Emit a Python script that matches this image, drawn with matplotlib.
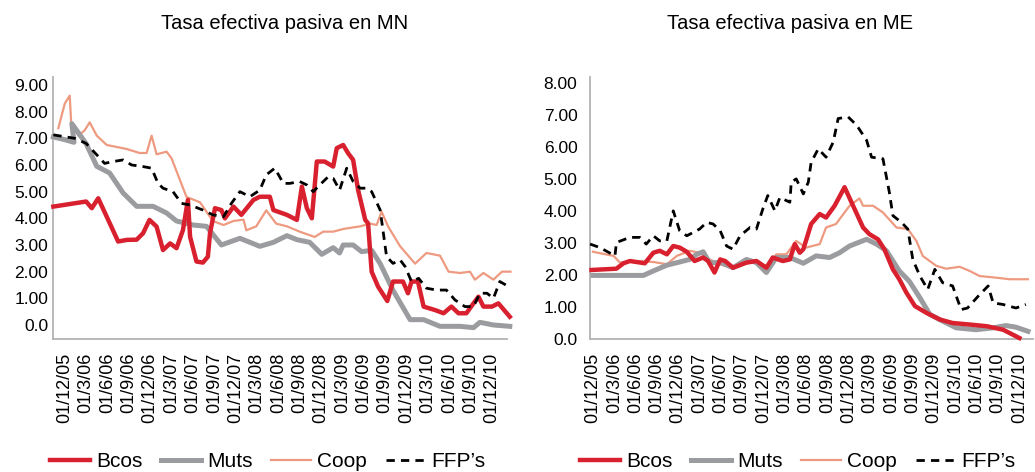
import matplotlib
matplotlib.use('Agg')
import matplotlib.pyplot as plt

plt.rcParams['font.family'] = ['Liberation Sans', 'DejaVu Sans']

# x values are months counted from Dec 2005 (0 = 01/12/05)
tick_labels = ['01/12/05', '01/3/06', '01/6/06', '01/9/06', '01/12/06', '01/3/07',
               '01/6/07', '01/9/07', '01/12/07', '01/3/08', '01/6/08', '01/9/08',
               '01/12/08', '01/3/09', '01/6/09', '01/9/09', '01/12/09', '01/3/10',
               '01/6/10', '01/9/10', '01/12/10']
tick_months = [3 * i for i in range(len(tick_labels))]

# --- Tasa efectiva pasiva en MN ---
mn_bcos_x = [-1.6, 3.0, 3.8, 4.7, 5.9, 7.5, 8.7, 10.1, 11.0, 11.9, 12.9, 13.8, 14.8, 15.7,
             16.6, 17.3, 17.6, 18.5, 19.4, 20.1, 20.4, 21.1, 22.0, 22.5, 23.7, 24.8, 26.5,
             27.4, 28.8, 29.3, 31.2, 32.6, 33.3, 34.0, 34.7, 35.4, 36.5, 37.7, 38.2, 39.1,
             39.8, 40.5, 41.2, 42.2, 42.6, 43.1, 44.0, 45.3, 46.1, 47.5, 48.2, 48.7, 49.6,
             50.4, 52.0, 53.2, 54.3, 55.3, 56.4, 57.4, 58.1, 58.8, 60.0, 60.9, 62.5]
mn_bcos_y = [4.44, 4.63, 4.38, 4.75, 4.06, 3.13, 3.19, 3.2, 3.44, 3.94, 3.69, 2.81, 3.06, 2.88,
             3.56, 4.69, 3.31, 2.38, 2.34, 2.56, 3.44, 4.38, 4.31, 4.0, 4.44, 4.13, 4.69,
             4.81, 4.81, 4.31, 4.13, 3.94, 5.19, 4.38, 4.0, 6.13, 6.13, 5.94, 6.63, 6.75,
             6.44, 6.19, 5.06, 3.94, 3.81, 2.0, 1.44, 0.9, 1.63, 1.63, 1.19, 1.63, 1.63,
             0.69, 0.56, 0.44, 0.69, 0.44, 0.44, 0.81, 1.06, 0.69, 0.69, 0.81, 0.31]

mn_muts_x = [-1.6, 0.0, 1.3, 1.0, 3.0, 4.5, 6.3, 8.2, 10.1, 12.4, 14.3, 15.7, 18.0, 19.9,
             22.0, 24.6, 27.4, 29.3, 31.2, 32.6, 34.4, 36.1, 37.7, 38.6, 39.1, 40.5, 41.7,
             43.1, 44.3, 46.1, 48.5, 50.4, 52.7, 55.5, 57.4, 58.3, 60.2, 62.5]
mn_muts_y = [7.05, 6.95, 6.85, 7.55, 6.8, 5.95, 5.7, 4.95, 4.45, 4.45, 4.2, 3.9, 3.75, 3.7,
             3.0, 3.25, 2.95, 3.1, 3.35, 3.2, 3.1, 2.65, 2.9, 2.7, 3.0, 3.0, 2.75,
             2.8, 2.3, 1.3, 0.2, 0.2, -0.05, -0.05, -0.1, 0.1, 0.0, -0.05]

mn_coop_x = [-0.9, 0.0, 0.7, 0.9, 1.9, 2.8, 3.5, 4.5, 5.9, 8.7, 10.5, 11.5, 12.2, 12.9,
             14.3, 15.0, 17.1, 17.6, 19.0, 20.8, 22.3, 23.7, 25.1, 25.5, 26.9, 28.3, 29.7,
             31.2, 33.0, 35.1, 36.3, 37.7, 39.1, 41.5, 42.9, 43.8, 44.5, 45.4, 47.1, 49.2,
             50.8, 52.7, 53.9, 55.5, 56.9, 57.6, 58.8, 60.2, 61.4, 62.6]
mn_coop_y = [7.38, 8.3, 8.6, 7.6, 7.1, 7.3, 7.6, 7.1, 6.75, 6.6, 6.45, 6.45, 7.1, 6.4,
             6.5, 6.25, 4.8, 4.75, 4.6, 3.9, 3.75, 3.9, 3.95, 3.55, 3.7, 4.3, 3.8,
             3.7, 3.5, 3.3, 3.5, 3.5, 3.6, 3.7, 3.8, 3.75, 4.25, 3.7, 2.95, 2.3,
             2.7, 2.6, 2.0, 1.95, 2.0, 1.7, 1.95, 1.7, 2.0, 2.0]

mn_ffp_x = [-1.6, 1.4, 3.0, 4.5, 5.6, 6.8, 8.2, 9.4, 11.0, 12.2, 13.1, 13.8, 15.2, 16.4,
            17.6, 19.4, 20.8, 22.3, 23.4, 24.6, 26.0, 27.4, 28.3, 29.5, 30.7, 31.6, 33.0,
            34.0, 34.9, 35.8, 37.0, 37.7, 38.6, 39.6, 40.5, 41.5, 42.4, 43.1, 44.3, 45.2,
            46.1, 47.1, 47.8, 48.7, 49.7, 50.8, 52.2, 53.6, 54.8, 56.2, 57.4, 58.3, 59.3,
            60.2, 61.1, 62.6]
mn_ffp_y = [7.13, 7.0, 6.81, 6.38, 6.06, 6.13, 6.19, 6.0, 5.94, 5.88, 5.31, 5.13, 5.0, 4.56,
            4.5, 4.31, 4.13, 4.06, 4.56, 5.0, 4.81, 5.06, 5.63, 5.88, 5.31, 5.31, 5.38,
            5.25, 5.0, 5.25, 5.56, 5.5, 5.06, 5.88, 5.38, 5.13, 5.13, 5.0, 4.31, 2.56,
            2.31, 2.44, 2.19, 1.63, 1.75, 1.38, 1.31, 1.31, 0.94, 0.69, 0.69, 1.19, 1.19,
            1.0, 1.63, 1.4]

# --- Tasa efectiva pasiva en ME ---
me_bcos_x = [-0.2, 3.3, 4.3, 5.2, 7.3, 8.5, 9.4, 10.4, 11.3, 12.2, 13.2, 14.3, 15.5, 16.2,
             17.1, 17.9, 18.6, 19.7, 21.6, 23.0, 24.4, 25.3, 26.7, 27.7, 28.4, 29.1, 29.6,
             30.7, 31.9, 32.8, 34.0, 35.4, 36.6, 38.0, 38.9, 40.1, 41.0, 42.2, 43.1, 44.1,
             45.3, 46.9, 48.8, 50.6, 53.1, 55.4, 57.7, 60.0]
me_bcos_y = [2.16, 2.2, 2.37, 2.44, 2.37, 2.7, 2.76, 2.65, 2.91, 2.86, 2.73, 2.44, 2.55, 2.44,
             2.08, 2.49, 2.44, 2.23, 2.39, 2.44, 2.23, 2.55, 2.44, 2.49, 2.97, 2.7, 2.81,
             3.6, 3.91, 3.8, 4.17, 4.75, 4.17, 3.49, 3.28, 3.12, 2.81, 2.18, 1.87, 1.45,
             1.03, 0.82, 0.61, 0.5, 0.45, 0.4, 0.29, 0.03]

me_muts_x = [0.0, 7.1, 8.5, 10.4, 12.2, 13.6, 14.6, 15.5, 16.4, 17.4, 18.3, 19.7, 21.6, 23.0,
             24.4, 25.8, 27.7, 29.6, 31.4, 33.3, 34.7, 36.1, 38.5, 39.9, 41.3, 43.1, 44.5,
             46.0, 47.4, 49.2, 51.1, 53.9, 56.3, 58.1, 59.5, 61.2]
me_muts_y = [1.99, 1.99, 2.13, 2.31, 2.41, 2.49, 2.65, 2.73, 2.39, 2.39, 2.37, 2.23, 2.49, 2.39,
             2.08, 2.55, 2.55, 2.37, 2.6, 2.55, 2.7, 2.91, 3.12, 2.97, 2.76, 2.13, 1.81,
             1.29, 0.77, 0.56, 0.35, 0.29, 0.35, 0.42, 0.37, 0.24]

me_coop_x = [0.0, 2.9, 3.8, 5.7, 8.5, 10.4, 11.8, 13.6, 15.0, 16.4, 17.9, 19.7, 22.1, 24.4,
             25.8, 27.2, 28.6, 30.0, 31.9, 32.8, 34.2, 36.1, 37.5, 38.0, 39.4, 40.8, 42.7,
             44.3, 45.5, 46.4, 48.3, 49.7, 51.6, 53.0, 54.4, 56.7, 58.6, 61.2]
me_coop_y = [2.73, 2.6, 2.39, 2.44, 2.41, 2.34, 2.6, 2.76, 2.7, 2.49, 2.34, 2.2, 2.41, 2.29,
             2.65, 2.65, 3.07, 2.86, 2.97, 3.49, 3.6, 4.17, 4.4, 4.17, 4.17, 3.96, 3.49,
             3.44, 3.07, 2.6, 2.29, 2.2, 2.26, 2.13, 1.97, 1.92, 1.87, 1.87]

me_ffp_x = [-0.4, 1.0, 3.1, 3.3, 5.2, 6.6, 7.5, 8.5, 9.4, 10.4, 11.3, 12.2, 13.2, 15.0,
            16.0, 16.9, 17.9, 18.8, 19.7, 20.7, 22.1, 23.0, 23.9, 24.6, 25.6, 26.3, 27.7,
            27.9, 28.6, 29.6, 30.3, 30.7, 31.7, 32.8, 33.8, 34.5, 35.9, 37.1, 38.5, 39.2,
            40.8, 41.7, 42.2, 43.4, 44.3, 45.0, 46.0, 47.1, 48.1, 49.2, 50.6, 51.8, 52.7,
            54.2, 55.6, 56.3, 57.7, 59.5, 60.9]
me_ffp_y = [2.97, 2.86, 2.6, 3.02, 3.18, 3.18, 2.97, 3.23, 3.07, 3.07, 4.01, 3.39, 3.23, 3.44,
            3.65, 3.6, 3.39, 2.91, 2.81, 3.23, 3.49, 3.44, 4.07, 4.49, 4.01, 4.43, 4.28,
            4.91, 5.01, 4.54, 4.91, 5.53, 5.95, 5.69, 6.16, 6.9, 6.95, 6.69, 6.22, 5.69,
            5.64, 4.59, 3.86, 3.65, 3.44, 2.49, 1.97, 1.55, 2.18, 1.76, 1.66, 0.92, 0.97,
            1.34, 1.66, 1.13, 1.08, 0.97, 1.08]

red = '#d8202f'
grey = '#9b9c9f'
salmon = '#ee9a80'

fig = plt.figure(figsize=(10.35, 4.72), dpi=100)
ax1 = fig.add_axes([0.0512, 0.2818, 0.4386, 0.5551])
ax2 = fig.add_axes([0.5700, 0.2818, 0.4280, 0.5551])

charts = [
    (ax1, 'Tasa efectiva pasiva en MN',
     (mn_bcos_x, mn_bcos_y), (mn_muts_x, mn_muts_y), (mn_coop_x, mn_coop_y), (mn_ffp_x, mn_ffp_y),
     (-1.65, 62.1), (-0.525, 9.3), range(0, 10), 0.275, 0.259),
    (ax2, 'Tasa efectiva pasiva en ME',
     (me_bcos_x, me_bcos_y), (me_muts_x, me_muts_y), (me_coop_x, me_coop_y), (me_ffp_x, me_ffp_y),
     (-0.42, 61.9), (0.0, 8.2), range(0, 9), 0.763, 0.771),
]

for ax, title, bcos, muts, coop, ffp, xl, yl, yt, title_x, leg_x in charts:
    lb, = ax.plot(*bcos, color=red, lw=3.2, solid_joinstyle='round', clip_on=False, zorder=4)
    lm, = ax.plot(*muts, color=grey, lw=3.6, solid_joinstyle='round', clip_on=False, zorder=3)
    lc, = ax.plot(*coop, color=salmon, lw=1.6, clip_on=False, zorder=2)
    lf, = ax.plot(*ffp, color='black', lw=2.0, dashes=(3, 2.2), clip_on=False, zorder=5)

    ax.set_xlim(*xl)
    ax.set_ylim(*yl)
    ax.set_xticks(tick_months)
    ax.set_xticklabels(tick_labels, rotation=90, fontsize=13)
    ax.set_yticks(list(yt))
    ax.set_yticklabels(['0.0'] + ['%.2f' % v for v in list(yt)[1:]], fontsize=12.5)
    ax.tick_params(length=0)
    ax.tick_params(axis='x', pad=10)
    for s in ['top', 'right']:
        ax.spines[s].set_visible(False)
    for s in ['left', 'bottom']:
        ax.spines[s].set_color('#b3b3b3')
        ax.spines[s].set_linewidth(1.3)

    fig.text(title_x, 0.951, title, ha='center', va='center', fontsize=14.5)

    fig.legend([lb, lm, lc, lf], ['Bcos', 'Muts', 'Coop', 'FFP\u2019s'],
               loc='center', bbox_to_anchor=(leg_x, 0.022), ncol=4, frameon=False,
               fontsize=15, handlelength=1.9, handletextpad=0.3, columnspacing=0.9,
               borderpad=0, borderaxespad=0)

ax2.tick_params(axis='y', pad=9)

fig.savefig('out.png', dpi=100)
